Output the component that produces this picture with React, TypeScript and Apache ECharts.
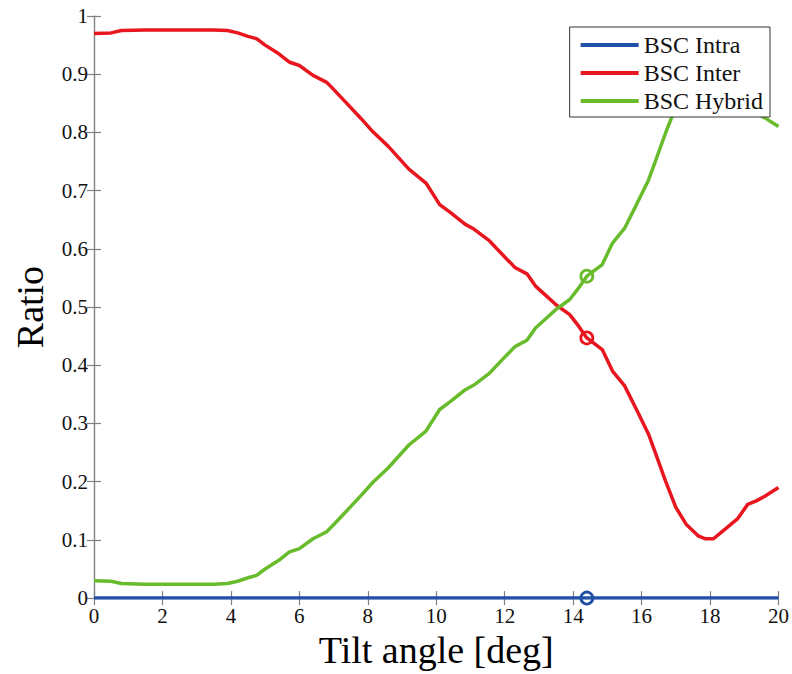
import React, { useEffect, useRef } from "react";
import * as echarts from "echarts";

const tiltAngles = [0, 0.5, 0.8, 1.5, 2.5, 3.5, 3.9, 4.2, 4.5, 4.75, 5.0, 5.4, 5.7, 6.0, 6.4, 6.8, 7.0, 7.4, 7.8, 8.15, 8.6, 9.2, 9.7, 10.1, 10.4, 10.85, 11.1, 11.55, 12.0, 12.3, 12.65, 12.9, 13.2, 13.5, 13.9, 14.15, 14.4, 14.85, 15.15, 15.5, 15.85, 16.2, 16.4, 16.7, 17.0, 17.3, 17.65, 17.85, 18.1, 18.45, 18.8, 19.1, 19.35, 19.6, 20];

const bscIntra = [0, 0, 0, 0, 0, 0, 0, 0, 0, 0, 0, 0, 0, 0, 0, 0, 0, 0, 0, 0, 0, 0, 0, 0, 0, 0, 0, 0, 0, 0, 0, 0, 0, 0, 0, 0, 0, 0, 0, 0, 0, 0, 0, 0, 0, 0, 0, 0, 0, 0, 0, 0, 0, 0, 0];

const bscInter = [0.970, 0.971, 0.975, 0.976, 0.976, 0.976, 0.975, 0.971, 0.965, 0.961, 0.950, 0.935, 0.921, 0.915, 0.898, 0.886, 0.874, 0.849, 0.824, 0.801, 0.776, 0.737, 0.713, 0.676, 0.663, 0.642, 0.634, 0.614, 0.586, 0.568, 0.557, 0.536, 0.520, 0.504, 0.487, 0.468, 0.447, 0.427, 0.390, 0.365, 0.324, 0.282, 0.250, 0.201, 0.156, 0.127, 0.107, 0.102, 0.102, 0.119, 0.136, 0.161, 0.167, 0.175, 0.190];

const bscHybrid = [0.030, 0.029, 0.025, 0.024, 0.024, 0.024, 0.025, 0.029, 0.035, 0.039, 0.050, 0.065, 0.079, 0.085, 0.102, 0.114, 0.126, 0.151, 0.176, 0.199, 0.224, 0.263, 0.287, 0.324, 0.337, 0.358, 0.366, 0.386, 0.414, 0.432, 0.443, 0.464, 0.480, 0.496, 0.513, 0.532, 0.553, 0.573, 0.610, 0.635, 0.676, 0.718, 0.750, 0.799, 0.844, 0.873, 0.893, 0.898, 0.898, 0.881, 0.864, 0.839, 0.833, 0.825, 0.810];

const markerAngle = 14.4;
const seriesNames = ["BSC Intra", "BSC Inter", "BSC Hybrid"];
const colors = ["#2150a8", "#e8161f", "#68bc2c"];

const FONT = "'Liberation Serif', 'Times New Roman', serif";
const AXIS_GRAY = "#808080";

export default function App() {
  const ref = useRef<HTMLDivElement>(null);
  useEffect(() => {
    if (!ref.current) return;
    const chart = echarts.init(ref.current, undefined, { renderer: "svg" });
    const allData = [bscIntra, bscInter, bscHybrid];
    const mi = tiltAngles.indexOf(markerAngle);
    const lineSeries = allData.map((d, i) => ({
      name: seriesNames[i],
      type: "line",
      data: tiltAngles.map((x, k) => [x, d[k]]),
      showSymbol: false,
      symbol: "none",
      smooth: false,
      lineStyle: { color: colors[i], width: 3.5 },
      itemStyle: { color: colors[i] },
      z: 3 + i,
    }));
    const markerSeries = allData.map((d, i) => ({
      name: seriesNames[i] + " marker",
      type: "scatter",
      data: [[markerAngle, d[mi]]],
      symbol: "circle",
      symbolSize: 12,
      itemStyle: { color: "rgba(255,255,255,0)", borderColor: colors[i], borderWidth: 2.8, opacity: 1 },
      z: 10,
    }));
    const axisCommon = {
      type: "value",
      axisLine: { show: true, lineStyle: { color: AXIS_GRAY, width: 1.2 } },
      axisTick: { show: true, inside: true, length: 7, lineStyle: { color: AXIS_GRAY, width: 1.2 } },
      splitLine: { show: false },
    };
    chart.setOption({
      animation: false,
      backgroundColor: "#ffffff",
      grid: { left: 94, right: 12, top: 16, bottom: 69, containLabel: false },
      legend: {
        data: seriesNames,
        orient: "vertical",
        right: 22,
        top: 27,
        icon: "rect",
        itemWidth: 58,
        itemHeight: 4,
        itemGap: 4,
        padding: [6, 7, 4, 11],
        backgroundColor: "#ffffff",
        borderColor: "#333333",
        borderWidth: 1,
        borderRadius: 0,
        textStyle: { fontFamily: FONT, fontSize: 24, color: "#111" },
        z: 20,
      },
      xAxis: [
        {
          ...axisCommon,
          min: 0,
          max: 20,
          interval: 2,
          position: "bottom",
          name: "Tilt angle [deg]",
          nameLocation: "middle",
          nameGap: 28,
          nameTextStyle: { fontFamily: FONT, fontSize: 38, color: "#000" },
          axisLabel: { fontFamily: FONT, fontSize: 21, color: "#111", margin: 7 },
        },
        {
          ...axisCommon,
          min: 0,
          max: 20,
          interval: 2,
          position: "top",
          axisLabel: { show: false },
        },
      ],
      yAxis: [
        {
          ...axisCommon,
          min: 0,
          max: 1,
          interval: 0.1,
          position: "left",
          name: "Ratio",
          nameLocation: "middle",
          nameGap: 45,
          nameTextStyle: { fontFamily: FONT, fontSize: 38, color: "#000" },
          axisLabel: {
            fontFamily: FONT,
            fontSize: 21,
            color: "#111",
            margin: 6,
            formatter: (v: number) => String(Math.round(v * 10) / 10),
          },
        },
        {
          ...axisCommon,
          min: 0,
          max: 1,
          interval: 0.1,
          position: "right",
          axisLabel: { show: false },
        },
      ],
      series: [...lineSeries, ...markerSeries],
    });
    return () => chart.dispose();
  }, []);
  return (
    <div
      ref={ref}
      style={{ position: "fixed", left: 0, top: 0, width: 792, height: 674 }}
    />
  );
}
